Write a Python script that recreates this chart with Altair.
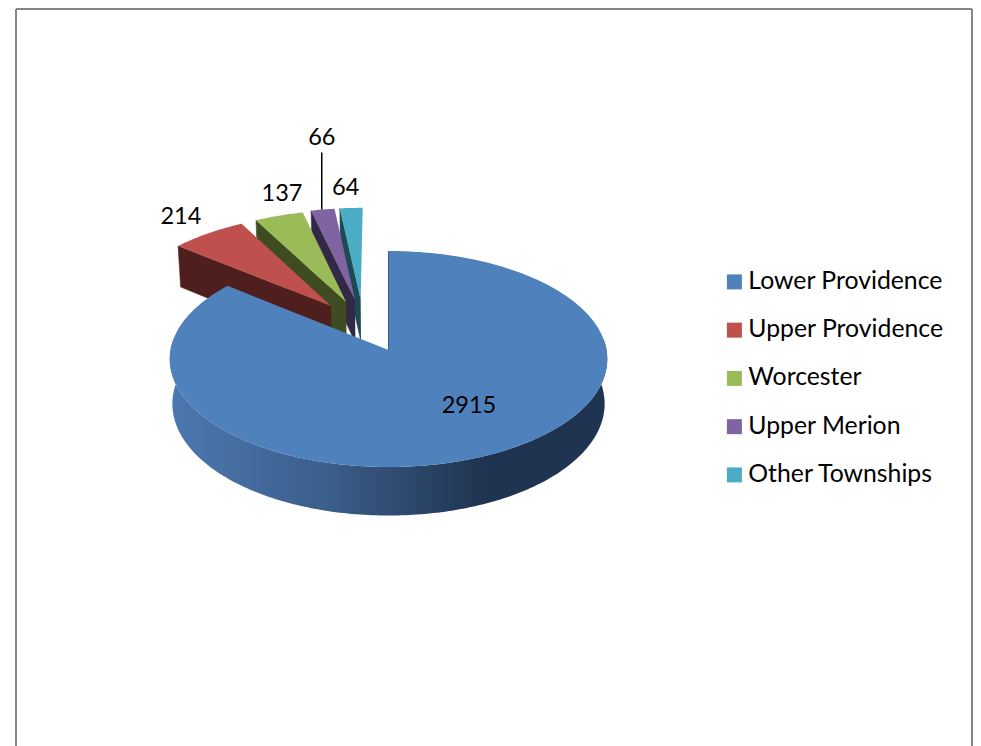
import math
import altair as alt
import pandas as pd

categories = ["Lower Providence", "Upper Providence", "Worcester", "Upper Merion", "Other Townships"]
values = [2915, 214, 137, 66, 64]
top_colors = ["#4f81bd", "#c0504d", "#9bbb59", "#8064a2", "#4bacc6"]
wall_colors = ["#1f3450", "#4f1f1e", "#3f4c21", "#332847", "#1e4a56"]

# explosion of each wedge on the pie's ground plane, and label offsets in pixels
explode = [(0, 0), (-0.273, 0.425), (-0.202, 0.465), (-0.160, 0.486), (-0.133, 0.49)]
label_offset = [(-21, -48.5), (-27, -16.5), (3, -21.5), (-1, -71.5), (-5.5, -19.5)]

CX, CY, RX, RY, PERSP, DEPTH, BASE = 388.5, 350, 218, 107.25, 0.0833, 44.5, 0.988
FONT = "Lato"
BOTTOM = 746
RIGHT = 973


def project(X, Y, low=False):
    s = 1 / (1 + PERSP * Y)
    px = RX * X * s
    py = CY - RY * Y * s
    if low:
        return CX + px * BASE, py + DEPTH * s
    return CX + px, py


def on_rim(e, deg):
    t = math.radians(deg)
    return e[0] + math.sin(t), e[1] + math.cos(t)


def arc(e, a, b, low=False):
    n = max(2, int(abs(b - a)) + 1)
    return [project(*on_rim(e, a + (b - a) * i / (n - 1)), low=low) for i in range(n)]


def frame(points, **cols):
    return pd.DataFrame(
        [{"px": p[0], "py": p[1], "i": i, **cols} for i, p in enumerate(points)]
    )


y_scale = alt.Scale(domain=[BOTTOM, 8], nice=False, zero=False)
X = alt.X("px:Q", scale=alt.Scale(domain=[8, RIGHT], nice=False, zero=False), axis=None)
Y = alt.Y("py:Q", scale=y_scale, axis=None)
ORDER = alt.Order("i:Q")

legend = alt.Legend(
    title=None, orient="none", legendX=714, legendY=261.5, symbolType="square",
    symbolSize=225, symbolStrokeWidth=0, labelFont=FONT, labelFontSize=24.8,
    labelColor="#000000", rowPadding=22.25, labelLimit=300, padding=0, labelOffset=1.5,
)
color = alt.Color(
    "category:N", legend=legend,
    scale=alt.Scale(domain=categories, range=top_colors),
    sort=categories,
)

total = sum(values)
angles, start = [], 0.0
for v in values:
    angles.append((start, start + v / total * 360))
    start += v / total * 360

layers = []

# hidden squares that carry the legend's symbols
layers.append(
    alt.Chart(pd.DataFrame({"category": categories, "px": [100] * 5, "py": [100] * 5}))
    .mark_point(filled=True, shape="square", size=0, opacity=1)
    .encode(x=X, y=Y, color=color)
)

# frame of the chart area
for a, b in [((16, BOTTOM), (16, 9)), ((16, 9), (RIGHT - 1, 9)), ((RIGHT - 1, 9), (RIGHT - 1, BOTTOM))]:
    layers.append(
        alt.Chart(frame([a, b])).mark_line(stroke="#868686", strokeWidth=2, clip=False)
        .encode(x=X, y=Y, order=ORDER)
    )

# exploded wedges, back to front
for k in [4, 3, 2, 1]:
    a, b = angles[k]
    e = explode[k]
    tip, tip_low = project(*e), project(*e, low=True)
    wall = [tip, project(*on_rim(e, a)), project(*on_rim(e, a), low=True), tip_low]
    layers.append(
        alt.Chart(frame(wall)).mark_line(fill=wall_colors[k], stroke=wall_colors[k], strokeWidth=0.5)
        .encode(x=X, y=Y, order=ORDER)
    )
    top = [tip] + arc(e, a, b)
    layers.append(
        alt.Chart(frame(top, category=categories[k]))
        .mark_line(filled=True, strokeWidth=0)
        .encode(x=X, y=Y, order=ORDER, color=color)
    )

# main slice: rim with gradient, thin inner wall, top face
a, b = angles[0]
rim = arc((0, 0), 84, 276) + arc((0, 0), 276, 84, low=True)
gradient = alt.Gradient(
    gradient="linear", x1=0, x2=1, y1=0, y2=0,
    stops=[
        alt.GradientStop(color="#4c78b0", offset=0),
        alt.GradientStop(color="#3c5f8c", offset=0.35),
        alt.GradientStop(color="#1f3450", offset=0.72),
        alt.GradientStop(color="#1f3450", offset=1),
    ],
)
layers.append(
    alt.Chart(frame(rim)).mark_line(fill=gradient, strokeWidth=0)
    .encode(x=X, y=Y, order=ORDER)
)
layers.append(
    alt.Chart(frame([project(0, 0), project(0, 1)]))
    .mark_line(stroke=wall_colors[0], strokeWidth=1)
    .encode(x=X, y=Y, order=ORDER)
)
top = [project(0, 0)] + arc((0, 0), a, b)
layers.append(
    alt.Chart(frame(top, category=categories[0]))
    .mark_line(filled=True, strokeWidth=0)
    .encode(x=X, y=Y, order=ORDER, color=color)
)

# data labels, placed from each wedge's outer midpoint
rows = []
for k, v in enumerate(values):
    mid = sum(angles[k]) / 2
    ax, ay = project(*on_rim(explode[k], mid))
    rows.append({"px": ax + label_offset[k][0], "py": ay + label_offset[k][1],
                 "label": str(v), "ay": ay})
labels = pd.DataFrame(rows)
layers.append(
    alt.Chart(labels[labels.label == "66"].assign(ly=lambda d: d.py + 14.5))
    .mark_rule(color="#000000", strokeWidth=1.5)
    .encode(x=X, y=alt.Y("ly:Q", scale=y_scale, axis=None), y2="ay:Q")
)
layers.append(
    alt.Chart(labels)
    .mark_text(font=FONT, fontSize=23.5, color="#000000", align="center", baseline="middle")
    .encode(x=X, y=Y, text="label:N")
)

chart = (
    alt.layer(*layers)
    .properties(width=RIGHT - 8, height=BOTTOM - 8, padding={"left": 0, "top": 0, "right": 0, "bottom": 0},
                autosize=alt.AutoSizeParams(type="none"), background="#ffffff")
    .configure_view(stroke=None)
)
chart.save("out.html", embed_options={"renderer": "svg", "actions": False})
